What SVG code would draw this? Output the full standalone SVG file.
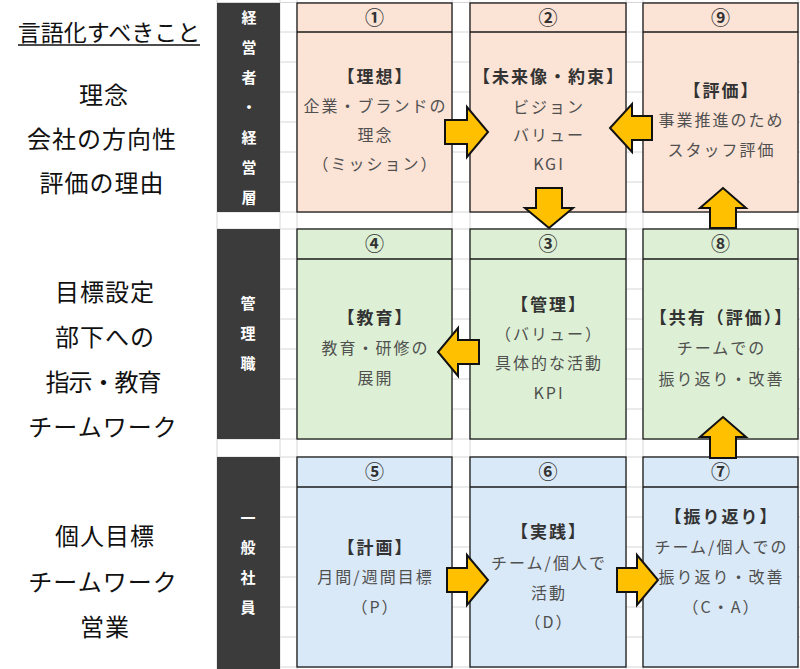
<svg xmlns="http://www.w3.org/2000/svg" width="800" height="669" viewBox="0 0 800 669">
<style>
.grid{stroke:#d6d6d6;stroke-width:1;fill:none}
.bar{fill:#3b3b3b}
.bt{font-family:"Noto Sans CJK JP","Noto Sans",sans-serif;font-size:15px;font-weight:bold;fill:#ffffff;text-anchor:middle}
.box{stroke:#1a1a1a;stroke-width:1.3}
.pink{fill:#fbe3d6}
.green{fill:#ddf0d5}
.blue{fill:#dae9f7}
.div{stroke:#1a1a1a;stroke-width:1.3}
.num{font-family:"Noto Sans CJK JP","Noto Sans",sans-serif;font-size:19px;font-weight:bold;fill:#333333;text-anchor:middle}
.hd{font-family:"Noto Sans CJK JP","Noto Sans",sans-serif;font-size:17px;font-weight:bold;fill:#333333;text-anchor:middle;letter-spacing:2px}
.tx{font-family:"Noto Sans CJK JP","Noto Sans",sans-serif;font-size:16px;fill:#505050;text-anchor:middle;letter-spacing:2px}
.lt{font-family:"Noto Sans CJK JP","Noto Sans",sans-serif;font-size:24px;fill:#111111;text-anchor:middle;letter-spacing:1px}
.arw{fill:#ffc000;stroke:#111111;stroke-width:2;stroke-linejoin:miter}
</style>

<rect x="0" y="0" width="800" height="669" fill="#ffffff"/>

<g id="grid">
<path class="grid" d="M217,2.5H800M217,32H800M217,62H800M217,92H800M217,122H800M217,152H800M217,182H800M217,212H800M217,229H800M217,259H800M217,289H800M217,319H800M217,349H800M217,379H800M217,409H800M217,439H800M217,457H800M217,487H800M217,517H800M217,547H800M217,577H800M217,607H800M217,637H800M217,667H800"/>
<path class="grid" d="M217,0V669M280,0V669M297,0V669M452,0V669M470,0V669M626,0V669M643,0V669M798,0V669"/>
</g>

<g id="left-labels">
<text class="lt" x="109" y="41" style="font-size:23px;letter-spacing:0px">言語化すべきこと</text>
<line x1="18" y1="45" x2="200" y2="45" stroke="#111111" stroke-width="1.3"/>
<text class="lt" x="104" y="104">理念</text>
<text class="lt" x="102" y="148">会社の方向性</text>
<text class="lt" x="102" y="192">評価の理由</text>
<text class="lt" x="105" y="301">目標設定</text>
<text class="lt" x="105" y="346">部下への</text>
<text class="lt" x="103" y="391" style="letter-spacing:-1px">指示・教育</text>
<text class="lt" x="103" y="436">チームワーク</text>
<text class="lt" x="105" y="545">個人目標</text>
<text class="lt" x="103" y="591">チームワーク</text>
<text class="lt" x="105" y="636">営業</text>
</g>

<g id="bar-management">
<rect class="bar" x="217" y="3" width="63" height="209"/>
<text class="bt" x="249" y="23">経</text>
<text class="bt" x="249" y="53">営</text>
<text class="bt" x="249" y="83">者</text>
<text class="bt" x="249" y="113">・</text>
<text class="bt" x="249" y="143">経</text>
<text class="bt" x="249" y="173">営</text>
<text class="bt" x="249" y="203">層</text>
</g>
<g id="bar-manager">
<rect class="bar" x="217" y="229" width="63" height="210"/>
<text class="bt" x="248" y="309">管</text>
<text class="bt" x="248" y="339">理</text>
<text class="bt" x="248" y="369">職</text>
</g>
<g id="bar-staff">
<rect class="bar" x="217" y="457" width="63" height="212"/>
<text class="bt" x="248" y="524">一</text>
<text class="bt" x="248" y="553">般</text>
<text class="bt" x="248" y="583">社</text>
<text class="bt" x="248" y="613">員</text>
</g>

<g id="node1">
<rect class="box pink" x="297" y="3" width="155" height="209"/>
<line class="div" x1="297" y1="32" x2="452" y2="32"/>
<text class="num" x="374.5" y="24.5">①</text>
<text class="hd" x="375.5" y="83">【理想】</text>
<text class="tx" x="375.5" y="112">企業・ブランドの</text>
<text class="tx" x="375.5" y="141">理念</text>
<text class="tx" x="375.5" y="170">（ミッション）</text>
</g>

<g id="node2">
<rect class="box pink" x="470" y="3" width="156" height="209"/>
<line class="div" x1="470" y1="32" x2="626" y2="32"/>
<text class="num" x="548" y="24.5">②</text>
<text class="hd" x="549" y="83">【未来像・約束】</text>
<text class="tx" x="549" y="113">ビジョン</text>
<text class="tx" x="549" y="141">バリュー</text>
<text class="tx" x="549" y="170">KGI</text>
</g>

<g id="node9">
<rect class="box pink" x="643" y="3" width="155" height="209"/>
<line class="div" x1="643" y1="32" x2="798" y2="32"/>
<text class="num" x="720.5" y="24.5">⑨</text>
<text class="hd" x="721.5" y="97">【評価】</text>
<text class="tx" x="721.5" y="126">事業推進のため</text>
<text class="tx" x="721.5" y="156">スタッフ評価</text>
</g>

<g id="node4">
<rect class="box green" x="297" y="229" width="155" height="210"/>
<line class="div" x1="297" y1="259" x2="452" y2="259"/>
<text class="num" x="374.5" y="250.5">④</text>
<text class="hd" x="375.5" y="324">【教育】</text>
<text class="tx" x="375.5" y="354">教育・研修の</text>
<text class="tx" x="375.5" y="384">展開</text>
</g>

<g id="node3">
<rect class="box green" x="470" y="229" width="156" height="210"/>
<line class="div" x1="470" y1="259" x2="626" y2="259"/>
<text class="num" x="548" y="250.5">③</text>
<text class="hd" x="549" y="311">【管理】</text>
<text class="tx" x="549" y="340">（バリュー）</text>
<text class="tx" x="549" y="369">具体的な活動</text>
<text class="tx" x="549" y="399">KPI</text>
</g>

<g id="node8">
<rect class="box green" x="643" y="229" width="155" height="210"/>
<line class="div" x1="643" y1="259" x2="798" y2="259"/>
<text class="num" x="720.5" y="250.5">⑧</text>
<text class="hd" x="721.5" y="324">【共有（評価）】</text>
<text class="tx" x="721.5" y="354">チームでの</text>
<text class="tx" x="721.5" y="385">振り返り・改善</text>
</g>

<g id="node5">
<rect class="box blue" x="297" y="457" width="155" height="210"/>
<line class="div" x1="297" y1="487" x2="452" y2="487"/>
<text class="num" x="374.5" y="478.5">⑤</text>
<text class="hd" x="375.5" y="554">【計画】</text>
<text class="tx" x="375.5" y="583">月間/週間目標</text>
<text class="tx" x="375.5" y="613">（P）</text>
</g>

<g id="node6">
<rect class="box blue" x="470" y="457" width="156" height="210"/>
<line class="div" x1="470" y1="487" x2="626" y2="487"/>
<text class="num" x="548" y="478.5">⑥</text>
<text class="hd" x="549" y="538">【実践】</text>
<text class="tx" x="549" y="569">チーム/個人で</text>
<text class="tx" x="549" y="599">活動</text>
<text class="tx" x="549" y="628">（D）</text>
</g>

<g id="node7">
<rect class="box blue" x="643" y="457" width="155" height="210"/>
<line class="div" x1="643" y1="487" x2="798" y2="487"/>
<text class="num" x="720.5" y="478.5">⑦</text>
<text class="hd" x="721.5" y="523">【振り返り】</text>
<text class="tx" x="721.5" y="553">チーム/個人での</text>
<text class="tx" x="721.5" y="583">振り返り・改善</text>
<text class="tx" x="721.5" y="613">（C・A）</text>
</g>

<g id="connectors">
<path class="arw" d="M445,120H467V107L488,132L467,157V144H445Z"/>
<path class="arw" d="M652,116H632V104L610,128L632,152V140H652Z"/>
<path class="arw" d="M536,188H562V208H573L549,228L525,208H536Z"/>
<path class="arw" d="M710,228V208H700L723,188L746,208H736V228Z"/>
<path class="arw" d="M710,458V437H700L723,417L746,437H736V458Z"/>
<path class="arw" d="M479,340H458V328L438,352L458,376V364H479Z"/>
<path class="arw" d="M447,568H467V555L488,580L467,605V592H447Z"/>
<path class="arw" d="M617,568H637V555L658,580L637,605V592H617Z"/>
</g>
</svg>
